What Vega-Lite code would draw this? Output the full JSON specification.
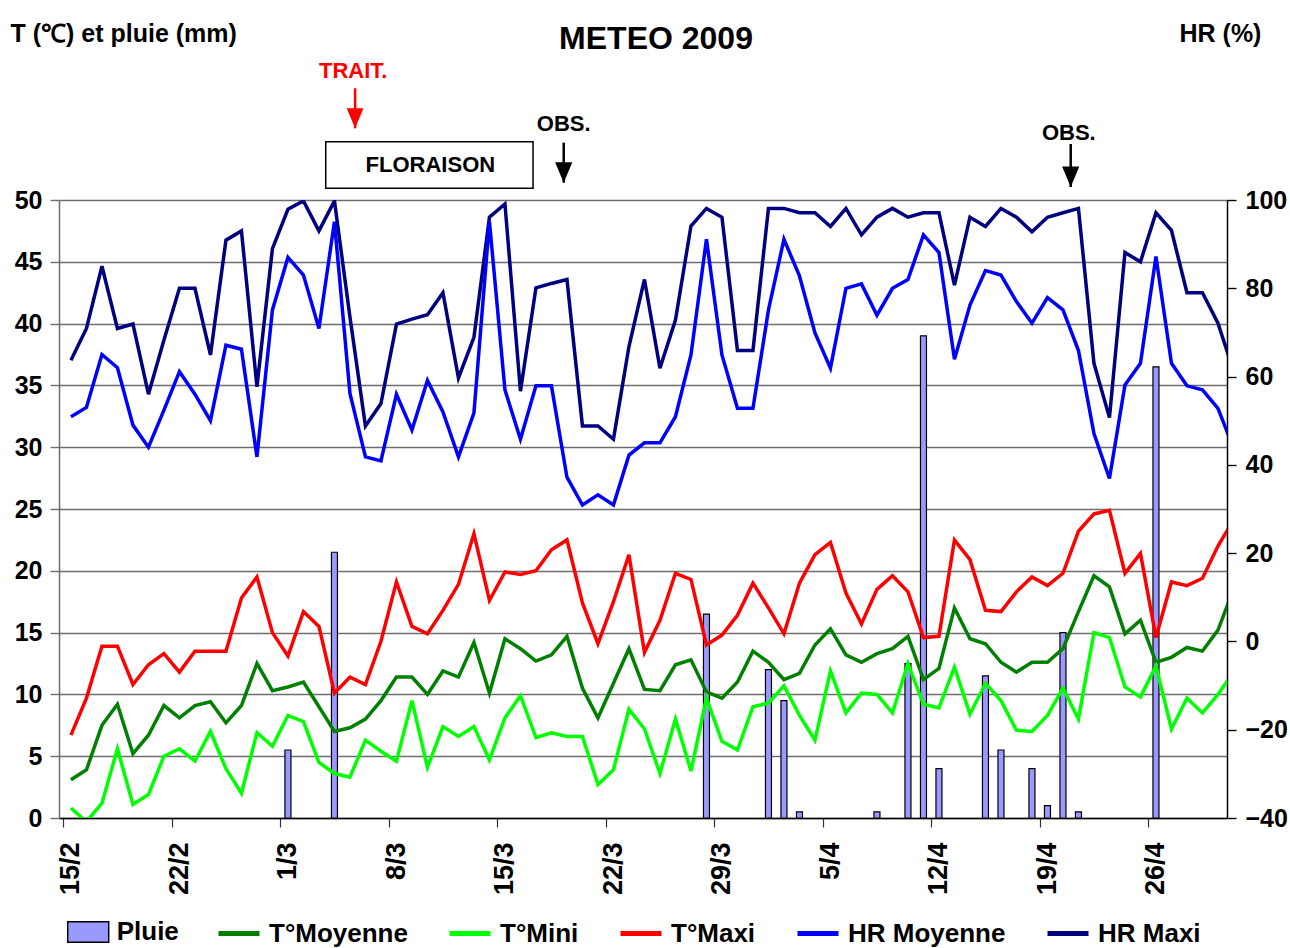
{
  "$schema": "https://vega.github.io/schema/vega-lite/v6.json",
  "width": 1168,
  "height": 618,
  "autosize": {"type": "none"},
  "padding": {"left": 59, "top": 200, "right": 63, "bottom": 130},
  "background": "white",
  "config": {
    "font": "Liberation Sans",
    "view": {"stroke": null},
    "axis": {"labelFont": "Liberation Sans", "labelFontWeight": "bold", "labelColor": "black", "titleColor": "black", "titleFont": "Liberation Sans", "titleFontWeight": "bold"},
    "legend": {"labelFont": "Liberation Sans", "labelFontWeight": "bold", "labelColor": "black"}
  },
  "title": {"text": "METEO 2009", "anchor": "middle", "frame": "group", "fontSize": 32, "fontWeight": "bold", "font": "Liberation Sans", "color": "black", "dx": 13, "dy": 35, "offset": 0},
  "datasets": {
    "meteo": [
      {"date": "2009-02-15", "tmoy": 3.1, "tmin": 0.8, "tmax": 6.7, "hrmoy": 50.9, "hrmax": 63.7, "pluie": 0},
      {"date": "2009-02-16", "tmoy": 3.9, "tmin": -0.3, "tmax": 9.7, "hrmoy": 53.0, "hrmax": 70.9, "pluie": 0},
      {"date": "2009-02-17", "tmoy": 7.5, "tmin": 1.2, "tmax": 13.9, "hrmoy": 65.0, "hrmax": 85.0, "pluie": 0},
      {"date": "2009-02-18", "tmoy": 9.2, "tmin": 5.6, "tmax": 13.9, "hrmoy": 62.0, "hrmax": 70.9, "pluie": 0},
      {"date": "2009-02-19", "tmoy": 5.2, "tmin": 1.1, "tmax": 10.8, "hrmoy": 49.0, "hrmax": 71.9, "pluie": 0},
      {"date": "2009-02-20", "tmoy": 6.7, "tmin": 1.9, "tmax": 12.4, "hrmoy": 44.0, "hrmax": 56.0, "pluie": 0},
      {"date": "2009-02-21", "tmoy": 9.1, "tmin": 5.0, "tmax": 13.3, "hrmoy": 52.4, "hrmax": 68.3, "pluie": 0},
      {"date": "2009-02-22", "tmoy": 8.1, "tmin": 5.6, "tmax": 11.8, "hrmoy": 61.1, "hrmax": 80.0, "pluie": 0},
      {"date": "2009-02-23", "tmoy": 9.1, "tmin": 4.6, "tmax": 13.5, "hrmoy": 56.0, "hrmax": 80.0, "pluie": 0},
      {"date": "2009-02-24", "tmoy": 9.4, "tmin": 7.0, "tmax": 13.5, "hrmoy": 50.0, "hrmax": 64.9, "pluie": 0},
      {"date": "2009-02-25", "tmoy": 7.7, "tmin": 4.0, "tmax": 13.5, "hrmoy": 67.1, "hrmax": 90.9, "pluie": 0},
      {"date": "2009-02-26", "tmoy": 9.1, "tmin": 2.0, "tmax": 17.8, "hrmoy": 66.2, "hrmax": 93.0, "pluie": 0},
      {"date": "2009-02-27", "tmoy": 12.5, "tmin": 6.9, "tmax": 19.5, "hrmoy": 41.8, "hrmax": 57.7, "pluie": 0},
      {"date": "2009-02-28", "tmoy": 10.3, "tmin": 5.8, "tmax": 15.0, "hrmoy": 75.1, "hrmax": 89.0, "pluie": 0},
      {"date": "2009-03-01", "tmoy": 10.6, "tmin": 8.3, "tmax": 13.1, "hrmoy": 87.0, "hrmax": 97.9, "pluie": 5.5},
      {"date": "2009-03-02", "tmoy": 11.0, "tmin": 7.8, "tmax": 16.7, "hrmoy": 83.0, "hrmax": 99.8, "pluie": 0},
      {"date": "2009-03-03", "tmoy": 9.0, "tmin": 4.5, "tmax": 15.5, "hrmoy": 70.9, "hrmax": 93.0, "pluie": 0},
      {"date": "2009-03-04", "tmoy": 7.0, "tmin": 3.6, "tmax": 10.1, "hrmoy": 95.1, "hrmax": 99.8, "pluie": 21.5},
      {"date": "2009-03-05", "tmoy": 7.3, "tmin": 3.3, "tmax": 11.4, "hrmoy": 56.2, "hrmax": 73.5, "pluie": 0},
      {"date": "2009-03-06", "tmoy": 8.0, "tmin": 6.3, "tmax": 10.8, "hrmoy": 41.8, "hrmax": 48.8, "pluie": 0},
      {"date": "2009-03-07", "tmoy": 9.5, "tmin": 5.4, "tmax": 14.3, "hrmoy": 40.9, "hrmax": 53.9, "pluie": 0},
      {"date": "2009-03-08", "tmoy": 11.4, "tmin": 4.6, "tmax": 19.1, "hrmoy": 56.0, "hrmax": 71.9, "pluie": 0},
      {"date": "2009-03-09", "tmoy": 11.4, "tmin": 9.5, "tmax": 15.5, "hrmoy": 47.9, "hrmax": 73.0, "pluie": 0},
      {"date": "2009-03-10", "tmoy": 10.0, "tmin": 4.1, "tmax": 14.9, "hrmoy": 59.1, "hrmax": 74.0, "pluie": 0},
      {"date": "2009-03-11", "tmoy": 11.9, "tmin": 7.4, "tmax": 16.8, "hrmoy": 52.0, "hrmax": 79.0, "pluie": 0},
      {"date": "2009-03-12", "tmoy": 11.4, "tmin": 6.6, "tmax": 18.9, "hrmoy": 41.8, "hrmax": 59.7, "pluie": 0},
      {"date": "2009-03-13", "tmoy": 14.2, "tmin": 7.4, "tmax": 23.0, "hrmoy": 51.8, "hrmax": 68.9, "pluie": 0},
      {"date": "2009-03-14", "tmoy": 10.1, "tmin": 4.7, "tmax": 17.6, "hrmoy": 95.1, "hrmax": 96.1, "pluie": 0},
      {"date": "2009-03-15", "tmoy": 14.5, "tmin": 8.1, "tmax": 19.9, "hrmoy": 57.0, "hrmax": 99.1, "pluie": 0},
      {"date": "2009-03-16", "tmoy": 13.7, "tmin": 9.9, "tmax": 19.7, "hrmoy": 45.8, "hrmax": 56.7, "pluie": 0},
      {"date": "2009-03-17", "tmoy": 12.7, "tmin": 6.5, "tmax": 20.0, "hrmoy": 57.9, "hrmax": 80.1, "pluie": 0},
      {"date": "2009-03-18", "tmoy": 13.2, "tmin": 6.9, "tmax": 21.7, "hrmoy": 57.9, "hrmax": 81.1, "pluie": 0},
      {"date": "2009-03-19", "tmoy": 14.7, "tmin": 6.6, "tmax": 22.5, "hrmoy": 37.2, "hrmax": 82.0, "pluie": 0},
      {"date": "2009-03-20", "tmoy": 10.5, "tmin": 6.6, "tmax": 17.4, "hrmoy": 30.9, "hrmax": 48.8, "pluie": 0},
      {"date": "2009-03-21", "tmoy": 8.1, "tmin": 2.7, "tmax": 14.1, "hrmoy": 33.2, "hrmax": 48.8, "pluie": 0},
      {"date": "2009-03-22", "tmoy": 10.9, "tmin": 3.9, "tmax": 17.5, "hrmoy": 30.9, "hrmax": 45.8, "pluie": 0},
      {"date": "2009-03-23", "tmoy": 13.7, "tmin": 8.8, "tmax": 21.3, "hrmoy": 42.2, "hrmax": 66.8, "pluie": 0},
      {"date": "2009-03-24", "tmoy": 10.4, "tmin": 7.2, "tmax": 13.4, "hrmoy": 45.0, "hrmax": 82.0, "pluie": 0},
      {"date": "2009-03-25", "tmoy": 10.3, "tmin": 3.6, "tmax": 16.0, "hrmoy": 45.0, "hrmax": 61.9, "pluie": 0},
      {"date": "2009-03-26", "tmoy": 12.4, "tmin": 8.0, "tmax": 19.8, "hrmoy": 50.9, "hrmax": 72.8, "pluie": 0},
      {"date": "2009-03-27", "tmoy": 12.8, "tmin": 3.8, "tmax": 19.3, "hrmoy": 64.9, "hrmax": 94.1, "pluie": 0},
      {"date": "2009-03-28", "tmoy": 10.2, "tmin": 9.7, "tmax": 14.0, "hrmoy": 91.1, "hrmax": 98.1, "pluie": 16.5},
      {"date": "2009-03-29", "tmoy": 9.7, "tmin": 6.2, "tmax": 14.8, "hrmoy": 64.9, "hrmax": 96.1, "pluie": 0},
      {"date": "2009-03-30", "tmoy": 11.0, "tmin": 5.5, "tmax": 16.4, "hrmoy": 52.8, "hrmax": 65.9, "pluie": 0},
      {"date": "2009-03-31", "tmoy": 13.5, "tmin": 9.0, "tmax": 19.0, "hrmoy": 52.8, "hrmax": 65.9, "pluie": 0},
      {"date": "2009-04-01", "tmoy": 12.6, "tmin": 9.3, "tmax": 17.0, "hrmoy": 75.1, "hrmax": 98.1, "pluie": 12.0},
      {"date": "2009-04-02", "tmoy": 11.2, "tmin": 10.7, "tmax": 14.9, "hrmoy": 91.1, "hrmax": 98.1, "pluie": 9.5},
      {"date": "2009-04-03", "tmoy": 11.7, "tmin": 8.3, "tmax": 19.0, "hrmoy": 82.8, "hrmax": 97.1, "pluie": 0.5},
      {"date": "2009-04-04", "tmoy": 14.0, "tmin": 6.3, "tmax": 21.3, "hrmoy": 69.9, "hrmax": 97.1, "pluie": 0},
      {"date": "2009-04-05", "tmoy": 15.3, "tmin": 11.9, "tmax": 22.3, "hrmoy": 61.9, "hrmax": 94.0, "pluie": 0},
      {"date": "2009-04-06", "tmoy": 13.2, "tmin": 8.5, "tmax": 18.2, "hrmoy": 80.0, "hrmax": 98.1, "pluie": 0},
      {"date": "2009-04-07", "tmoy": 12.6, "tmin": 10.1, "tmax": 15.7, "hrmoy": 81.0, "hrmax": 92.1, "pluie": 0},
      {"date": "2009-04-08", "tmoy": 13.3, "tmin": 10.0, "tmax": 18.5, "hrmoy": 73.9, "hrmax": 96.1, "pluie": 0.5},
      {"date": "2009-04-09", "tmoy": 13.7, "tmin": 8.5, "tmax": 19.6, "hrmoy": 80.0, "hrmax": 98.1, "pluie": 0},
      {"date": "2009-04-10", "tmoy": 14.7, "tmin": 12.5, "tmax": 18.3, "hrmoy": 82.0, "hrmax": 96.1, "pluie": 12.5},
      {"date": "2009-04-11", "tmoy": 11.2, "tmin": 9.2, "tmax": 14.6, "hrmoy": 92.1, "hrmax": 97.1, "pluie": 39.0},
      {"date": "2009-04-12", "tmoy": 12.1, "tmin": 8.9, "tmax": 14.7, "hrmoy": 88.1, "hrmax": 97.1, "pluie": 4.0},
      {"date": "2009-04-13", "tmoy": 17.0, "tmin": 12.2, "tmax": 22.5, "hrmoy": 63.9, "hrmax": 80.7, "pluie": 0},
      {"date": "2009-04-14", "tmoy": 14.5, "tmin": 8.4, "tmax": 20.9, "hrmoy": 76.2, "hrmax": 96.1, "pluie": 0},
      {"date": "2009-04-15", "tmoy": 14.1, "tmin": 10.9, "tmax": 16.8, "hrmoy": 84.0, "hrmax": 94.0, "pluie": 11.5},
      {"date": "2009-04-16", "tmoy": 12.6, "tmin": 9.5, "tmax": 16.7, "hrmoy": 83.0, "hrmax": 98.1, "pluie": 5.5},
      {"date": "2009-04-17", "tmoy": 11.8, "tmin": 7.1, "tmax": 18.3, "hrmoy": 77.0, "hrmax": 96.1, "pluie": 0},
      {"date": "2009-04-18", "tmoy": 12.6, "tmin": 7.0, "tmax": 19.5, "hrmoy": 72.1, "hrmax": 92.8, "pluie": 4.0},
      {"date": "2009-04-19", "tmoy": 12.6, "tmin": 8.3, "tmax": 18.8, "hrmoy": 77.9, "hrmax": 96.1, "pluie": 1.0},
      {"date": "2009-04-20", "tmoy": 13.7, "tmin": 10.5, "tmax": 19.8, "hrmoy": 75.1, "hrmax": 97.1, "pluie": 15.0},
      {"date": "2009-04-21", "tmoy": 16.7, "tmin": 8.0, "tmax": 23.2, "hrmoy": 65.9, "hrmax": 98.1, "pluie": 0.5},
      {"date": "2009-04-22", "tmoy": 19.6, "tmin": 15.0, "tmax": 24.6, "hrmoy": 47.1, "hrmax": 63.0, "pluie": 0},
      {"date": "2009-04-23", "tmoy": 18.7, "tmin": 14.6, "tmax": 24.9, "hrmoy": 36.9, "hrmax": 50.7, "pluie": 0},
      {"date": "2009-04-24", "tmoy": 14.9, "tmin": 10.6, "tmax": 19.8, "hrmoy": 58.1, "hrmax": 88.1, "pluie": 0},
      {"date": "2009-04-25", "tmoy": 16.0, "tmin": 9.8, "tmax": 21.4, "hrmoy": 63.0, "hrmax": 86.0, "pluie": 0},
      {"date": "2009-04-26", "tmoy": 12.6, "tmin": 12.3, "tmax": 14.6, "hrmoy": 87.2, "hrmax": 97.1, "pluie": 36.5},
      {"date": "2009-04-27", "tmoy": 13.0, "tmin": 7.2, "tmax": 19.1, "hrmoy": 63.0, "hrmax": 93.1, "pluie": 0},
      {"date": "2009-04-28", "tmoy": 13.8, "tmin": 9.7, "tmax": 18.8, "hrmoy": 57.9, "hrmax": 79.0, "pluie": 0},
      {"date": "2009-04-29", "tmoy": 13.5, "tmin": 8.5, "tmax": 19.4, "hrmoy": 57.0, "hrmax": 79.0, "pluie": 0},
      {"date": "2009-04-30", "tmoy": 15.2, "tmin": 10.0, "tmax": 22.0, "hrmoy": 52.8, "hrmax": 72.1, "pluie": 0},
      {"date": "2009-05-01", "tmoy": 18.5, "tmin": 11.8, "tmax": 24.1, "hrmoy": 43.8, "hrmax": 61.3, "pluie": 0}
    ],
    "labels": [
      {"kind": "trait", "date": "2009-03-05T05:00:00Z", "level": 60.4, "label": "TRAIT."},
      {"kind": "obs", "date": "2009-03-18T19:00:00Z", "level": 56.15, "label": "OBS."},
      {"kind": "obs", "date": "2009-04-20T09:00:00Z", "level": 55.42, "label": "OBS."},
      {"kind": "stade", "date": "2009-03-10T04:30:00Z", "level": 52.83, "label": "FLORAISON"}
    ],
    "arrows": [
      {"kind": "trait", "date": "2009-03-05T08:00:00Z", "top": 59.04, "tip": 55.8},
      {"kind": "obs", "date": "2009-03-18T19:00:00Z", "top": 54.64, "tip": 51.4},
      {"kind": "obs", "date": "2009-04-20T12:00:00Z", "top": 54.53, "tip": 51.05}
    ],
    "box": [
      {"date": "2009-03-03T10:30:00Z", "date2": "2009-03-16T19:30:00Z", "top": 54.72, "bottom": 50.95}
    ]
  },
  "encoding": {
    "x": {
      "field": "date",
      "type": "temporal",
      "title": null,
      "scale": {
        "type": "utc",
        "domain": [
          {"year": 2009, "month": 2, "date": 14, "hours": 13, "minutes": 15, "utc": true},
          {"year": 2009, "month": 4, "date": 30, "hours": 6, "minutes": 15, "utc": true}
        ]
      },
      "axis": {
        "values": [
          {"year": 2009, "month": 2, "date": 15, "utc": true},
          {"year": 2009, "month": 2, "date": 22, "utc": true},
          {"year": 2009, "month": 3, "date": 1, "utc": true},
          {"year": 2009, "month": 3, "date": 8, "utc": true},
          {"year": 2009, "month": 3, "date": 15, "utc": true},
          {"year": 2009, "month": 3, "date": 22, "utc": true},
          {"year": 2009, "month": 3, "date": 29, "utc": true},
          {"year": 2009, "month": 4, "date": 5, "utc": true},
          {"year": 2009, "month": 4, "date": 12, "utc": true},
          {"year": 2009, "month": 4, "date": 19, "utc": true},
          {"year": 2009, "month": 4, "date": 26, "utc": true}
        ],
        "labelExpr": "utcFormat(datum.value, '%-d/%-m')",
        "labelAngle": 270,
        "labelAlign": "right",
        "labelBaseline": "middle",
        "labelFontSize": 27,
        "labelPadding": 15,
        "labelOffset": 7.8,
        "tickOffset": -7.8,
        "tickSize": 9,
        "tickColor": "#333333",
        "tickWidth": 1.2,
        "domainColor": "black",
        "domainWidth": 1.5,
        "grid": false,
        "labelOverlap": false,
        "labelFlush": false
      }
    }
  },
  "layer": [
    {
      "layer": [
        {
          "data": {"name": "meteo"},
          "transform": [{"filter": "datum.pluie > 0"}],
          "mark": {"type": "bar", "size": 6, "stroke": "black", "strokeWidth": 1.2, "clip": true},
          "encoding": {
            "y": {
              "field": "pluie",
              "type": "quantitative",
              "scale": {"domain": [0, 50], "nice": false, "zero": false},
              "axis": {
                "orient": "left",
                "values": [0, 5, 10, 15, 20, 25, 30, 35, 40, 45, 50],
                "grid": true,
                "gridColor": "#6e6e6e",
                "gridWidth": 1.4,
                "domainColor": "#6e6e6e",
                "domainWidth": 1.5,
                "tickColor": "#6e6e6e",
                "tickWidth": 1.4,
                "tickSize": 9,
                "labelFontSize": 25,
                "labelPadding": 8,
                "title": "T (℃) et pluie (mm)",
                "titleFontSize": 25,
                "titleAngle": 0,
                "titleAlign": "left",
                "titleBaseline": "alphabetic",
                "titleX": -49,
                "titleY": -159
              }
            },
            "fill": {
              "datum": "Pluie",
              "type": "nominal",
              "scale": {"domain": ["Pluie"], "range": ["#9999FF"]},
              "legend": {
                "title": null,
                "orient": "none",
                "legendX": 7.7,
                "legendY": 710.5,
                "direction": "horizontal",
                "padding": 0,
                "symbolType": "M-1,-0.5H1V0.5H-1Z",
                "symbolSize": 1681,
                "symbolStrokeColor": "black",
                "symbolStrokeWidth": 1.5,
                "symbolOpacity": 1,
                "labelFontSize": 26,
                "labelOffset": 7
              }
            }
          }
        },
        {
          "data": {"name": "meteo"},
          "transform": [{"fold": ["tmoy", "tmin", "tmax"], "as": ["serie", "valeur"]}],
          "mark": {"type": "line", "strokeWidth": 3.5, "clip": true},
          "encoding": {
            "y": {"field": "valeur", "type": "quantitative"},
            "stroke": {
              "field": "serie",
              "type": "nominal",
              "scale": {
                "domain": ["tmoy", "tmin", "tmax", "hrmoy", "hrmax"],
                "range": ["#008000", "#00FF00", "#FF0000", "#0000FF", "#000080"]
              },
              "legend": {
                "title": null,
                "orient": "none",
                "legendX": 157,
                "legendY": 710.5,
                "direction": "horizontal",
                "padding": 0,
                "columnPadding": 31,
                "symbolType": "stroke",
                "symbolSize": 1681,
                "symbolStrokeWidth": 5,
                "labelFontSize": 26,
                "labelOffset": 7,
                "labelExpr": "datum.label == 'tmoy' ? 'T°Moyenne' : datum.label == 'tmin' ? 'T°Mini' : datum.label == 'tmax' ? 'T°Maxi' : datum.label == 'hrmoy' ? 'HR Moyenne' : 'HR Maxi'"
              }
            }
          }
        },
        {
          "data": {"name": "box"},
          "mark": {"type": "rect", "fill": "white", "stroke": "black", "strokeWidth": 1.5},
          "encoding": {
            "x2": {"field": "date2"},
            "y": {"field": "top", "type": "quantitative"},
            "y2": {"field": "bottom"}
          }
        },
        {
          "data": {"name": "arrows"},
          "transform": [{"filter": "datum.kind == 'trait'"}],
          "layer": [
            {
              "mark": {"type": "rule", "strokeWidth": 2.5, "color": "#FF0000"},
              "encoding": {"y": {"field": "top", "type": "quantitative"}, "y2": {"field": "tip"}}
            },
            {
              "mark": {"type": "point", "shape": "M-0.42,-1L0.42,-1L0,0Z", "filled": true, "size": 1600, "color": "#FF0000", "opacity": 1},
              "encoding": {"y": {"field": "tip", "type": "quantitative"}}
            }
          ]
        },
        {
          "data": {"name": "arrows"},
          "transform": [{"filter": "datum.kind == 'obs'"}],
          "layer": [
            {
              "mark": {"type": "rule", "strokeWidth": 2.5, "color": "black"},
              "encoding": {"y": {"field": "top", "type": "quantitative"}, "y2": {"field": "tip"}}
            },
            {
              "mark": {"type": "point", "shape": "M-0.42,-1L0.42,-1L0,0Z", "filled": true, "size": 1681, "color": "black", "opacity": 1},
              "encoding": {"y": {"field": "tip", "type": "quantitative"}}
            }
          ]
        },
        {
          "data": {"name": "labels"},
          "transform": [{"filter": "datum.kind == 'trait'"}],
          "mark": {"type": "text", "fontSize": 22, "fontWeight": "bold", "color": "#FF0000", "align": "center", "baseline": "middle"},
          "encoding": {"y": {"field": "level", "type": "quantitative"}, "text": {"field": "label"}}
        },
        {
          "data": {"name": "labels"},
          "transform": [{"filter": "datum.kind != 'trait'"}],
          "mark": {"type": "text", "fontSize": 22, "fontWeight": "bold", "color": "black", "align": "center", "baseline": "middle"},
          "encoding": {"y": {"field": "level", "type": "quantitative"}, "text": {"field": "label"}}
        }
      ]
    },
    {
      "data": {"name": "meteo"},
      "transform": [{"fold": ["hrmax", "hrmoy"], "as": ["serie", "valeur"]}],
      "mark": {"type": "line", "strokeWidth": 3.5, "clip": true},
      "encoding": {
        "y": {
          "field": "valeur",
          "type": "quantitative",
          "scale": {"domain": [-40, 100], "nice": false, "zero": false},
          "axis": {
            "orient": "right",
            "values": [-40, -20, 0, 20, 40, 60, 80, 100],
            "grid": false,
            "domainColor": "black",
            "domainWidth": 1.5,
            "tickColor": "black",
            "tickWidth": 1.4,
            "tickSize": 9,
            "labelFontSize": 25,
            "labelPadding": 9,
            "title": "HR (%)",
            "titleFontSize": 25,
            "titleAngle": 0,
            "titleAlign": "left",
            "titleBaseline": "alphabetic",
            "titleX": -48,
            "titleY": -159
          }
        },
        "stroke": {"field": "serie", "type": "nominal"}
      }
    }
  ],
  "resolve": {"scale": {"y": "independent"}}
}
